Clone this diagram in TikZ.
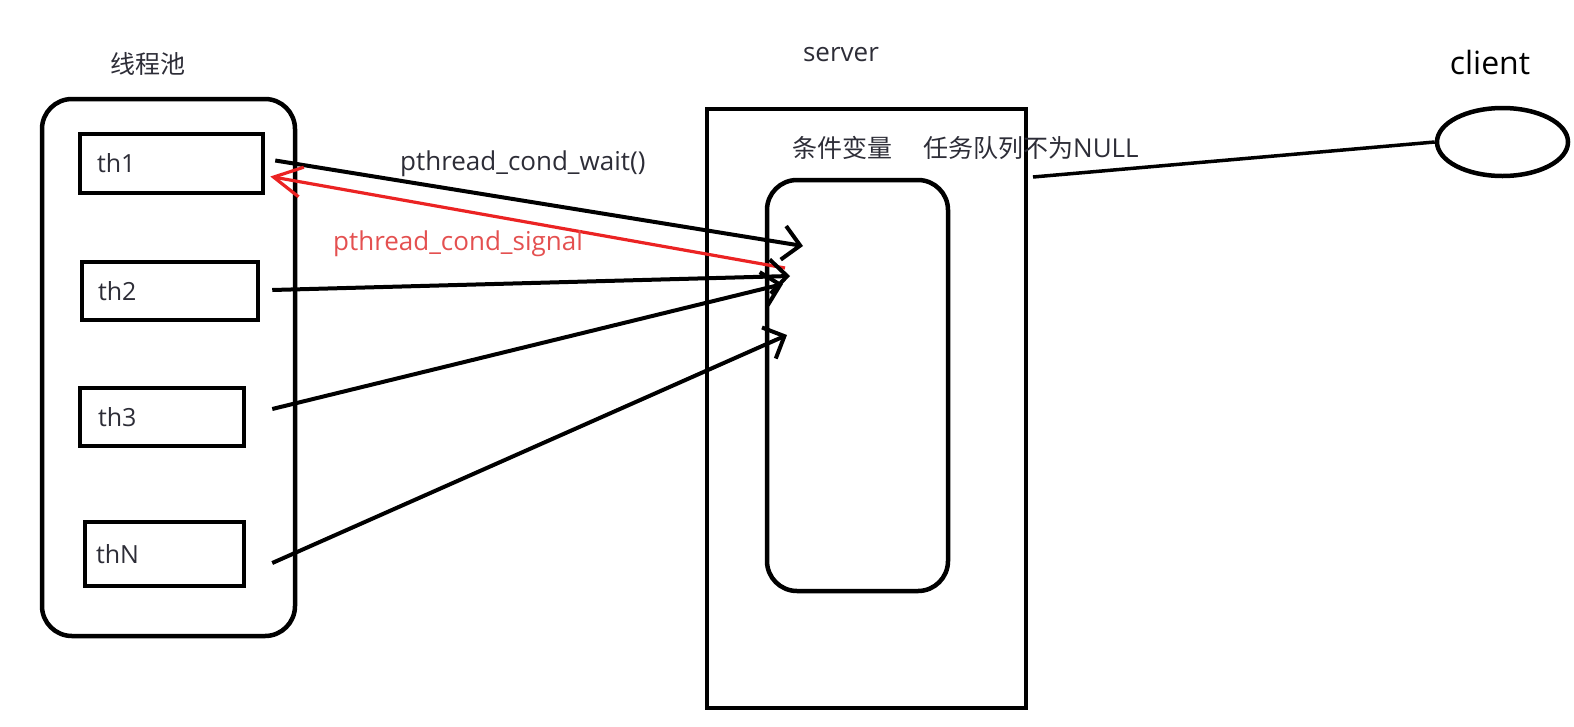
\documentclass[tikz,border=0pt]{standalone}
\usepackage{fontspec}
\setmainfont{Open Sans}
\newfontfamily\cjk{Noto Sans CJK SC}
\usetikzlibrary{arrows.meta,shapes.geometric}

\definecolor{inkgray}{RGB}{45,45,55}
\definecolor{sigred}{RGB}{235,35,35}
\definecolor{sigtext}{RGB}{228,80,80}

\tikzset{
  lab/.style = {font=\fontsize{26}{30}\selectfont, text=inkgray, inner sep=0pt},
  zh/.style = {font=\fontsize{25}{30}\selectfont\cjk, text=inkgray, inner sep=0pt},
  thbox/.style = {draw, line width=4.5pt, inner ysep=0pt, align=left,
                  font=\fontsize{25}{30}\selectfont, text=inkgray},
  bigbox/.style = {draw, line width=4.5pt, inner sep=0pt},
  link/.style = {line width=4pt,
                 -{Straight Barb[length=17pt,width=34pt,line width=4pt]}},
  signal/.style = {sigred, line width=3.2pt,
                   -{Straight Barb[length=28pt,width=30pt,line width=3.2pt]}}
}

\begin{document}
\begin{tikzpicture}[x=1pt,y=-1pt]

\useasboundingbox (0,0) rectangle (1574,726);

\node[zh] (pooltitle) at (148,64) {线程池};
\node[bigbox, rounded corners=30pt, minimum width=253pt, minimum height=537pt] (pool) at (168.5,367.5) {};

\node[thbox, minimum width=183pt, minimum height=59pt, inner xsep=17pt, text width=149pt] (th1) at (171.5,163.5) {th1};
\node[thbox, minimum width=176pt, minimum height=58pt, inner xsep=16pt, text width=144pt] (th2) at (170,291) {th2};
\node[thbox, minimum width=164pt, minimum height=58pt, inner xsep=18pt, text width=128pt] (th3) at (162,417) {th3};
\node[thbox, minimum width=159pt, minimum height=64pt, inner xsep=11pt, text width=137pt] (thN) at (164.5,554) {thN};

\node[lab] (srvtitle) at (841,55) {server};
\node[bigbox, minimum width=319pt, minimum height=599pt] (srv) at (866.5,408.5) {};
\node[zh, anchor=west] (condtitle) at (792,148) {条件变量};
\node[zh, anchor=west] (tasktitle) at (923,148) {任务队列不为{\fontspec{Open Sans}\fontsize{26}{30}\selectfont NULL}};
\node[bigbox, rounded corners=30pt, minimum width=181pt, minimum height=411pt] (cond) at (857.5,385.5) {};

\node[lab, font=\fontsize{32}{36}\selectfont, text=black] (clititle) at (1490,62) {client};
\node[bigbox, ellipse, minimum width=131pt, minimum height=68pt] (cli) at (1502.5,142) {};

\coordinate (w1) at (803,246);
\coordinate (s1) at (785,268);
\coordinate (a2) at (790,276);
\coordinate (a3) at (783,284);
\coordinate (aN) at (787,335);
\coordinate (q) at (1033,177);

\draw[link] ([xshift=10pt,yshift=3pt]th1.east) -- (w1);
\draw[signal] (s1) -- ([xshift=5pt,yshift=-13pt]th1.east);
\draw[link] ([xshift=12pt,yshift=1pt]th2.east) -- (a2);
\draw[link] ([xshift=26pt,yshift=8pt]th3.east) -- (a3);
\draw[link] ([xshift=26pt,yshift=-9pt]thN.east) -- (aN);
\draw[line width=3.5pt] (q) -- (cli.west);

\node[lab, anchor=west] (waitlab) at (400,164) {pthread\_cond\_wait()};
\node[lab, anchor=west, text=sigtext] (siglab) at (333,244) {pthread\_cond\_signal};

\end{tikzpicture}
\end{document}
